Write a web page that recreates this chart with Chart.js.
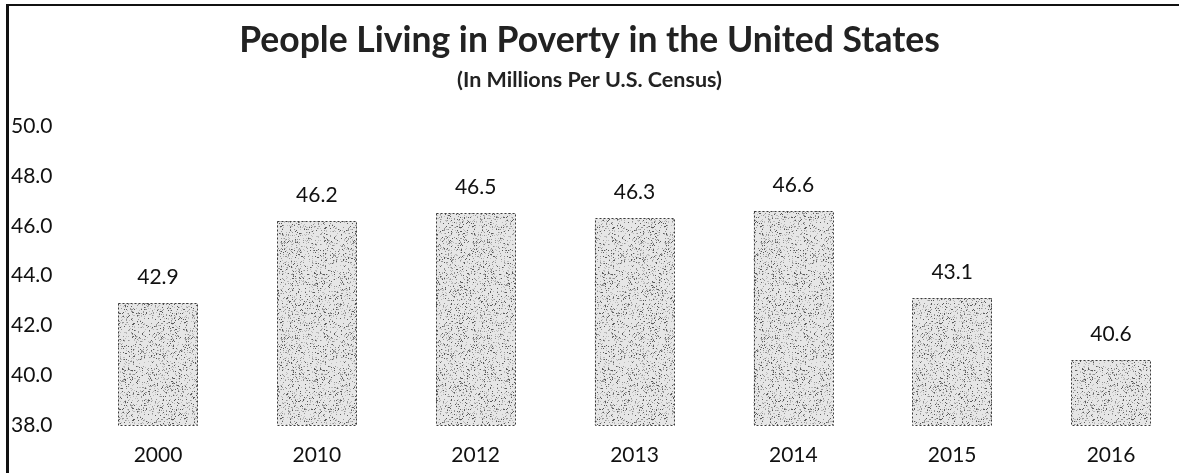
<!DOCTYPE html>
<html lang="en">
<head>
    <meta charset="UTF-8">
    <title>People Living in Poverty in the United States</title>
    <script src="https://cdn.jsdelivr.net/npm/chart.js"></script>
    <style>
        body { margin: 0; background: #fff; overflow: hidden; }
        #wrap { position: relative; width: 1179px; height: 473px; }
        #frame { position: absolute; left: 6px; top: 4px; width: 1200px; height: 480px;
                 border-left: 3px solid #111; border-top: 2px solid #111; pointer-events: none; }
    </style>
</head>
<body>
    <div id="wrap">
        <canvas id="povertyChart" width="1179" height="473"></canvas>
        <div id="frame"></div>
    </div>

    <script>
        // values
        const years = ['2000', '2010', '2012', '2013', '2014', '2015', '2016'];
        const millions = [42.9, 46.2, 46.5, 46.3, 46.6, 43.1, 40.6];
        const yMin = 38;
        const yMax = 50;
        const yStep = 2;

        const FONT = 'Lato, "Open Sans", sans-serif';

        // speckled grey fill like the scanned bars
        function makeStipple() {
            const c = document.createElement('canvas');
            c.width = 96; c.height = 96;
            const g = c.getContext('2d');
            g.fillStyle = '#e6e6e6';
            g.fillRect(0, 0, 96, 96);
            let s = 12345;
            const next = () => { s = (s * 1103515245 + 12345) & 0x7fffffff; return s / 0x7fffffff; };
            for (let i = 0; i < 1900; i++) {
                const x = Math.floor(next() * 96), y = Math.floor(next() * 96);
                const t = next();
                g.fillStyle = t < 0.25 ? '#5a5a5a' : (t < 0.6 ? '#949494' : '#bdbdbd');
                g.fillRect(x, y, 1, 1);
            }
            return g.createPattern(c, 'repeat');
        }

        // value labels above bars + dashed outline
        const barDecor = {
            id: 'barDecor',
            afterDatasetsDraw(chart) {
                const ctx = chart.ctx;
                const meta = chart.getDatasetMeta(0);
                ctx.save();
                meta.data.forEach((bar, i) => {
                    const w = bar.width;
                    ctx.setLineDash([2, 2]);
                    ctx.strokeStyle = '#3a3a3a';
                    ctx.lineWidth = 1;
                    ctx.strokeRect(Math.round(bar.x - w / 2) + 0.5, Math.round(bar.y) + 0.5,
                                   Math.round(w), Math.round(bar.base - bar.y));
                    ctx.setLineDash([]);
                    ctx.fillStyle = '#111';
                    ctx.font = '21px ' + FONT;
                    ctx.textAlign = 'center';
                    ctx.textBaseline = 'middle';
                    ctx.fillText(millions[i].toFixed(1), bar.x, bar.y - 26);
                });
                ctx.restore();
            }
        };

        const ctx = document.getElementById('povertyChart').getContext('2d');
        new Chart(ctx, {
            type: 'bar',
            data: {
                labels: years,
                datasets: [{
                    data: millions,
                    base: yMin,
                    backgroundColor: makeStipple(),
                    borderWidth: 0,
                    barPercentage: 0.5,
                    categoryPercentage: 1.0,
                    clip: false
                }]
            },
            options: {
                responsive: false,
                animation: false,
                layout: { padding: { left: 11, right: 11, top: 0, bottom: 6 } },
                scales: {
                    x: {
                        offset: false,
                        grid: { display: false, drawTicks: false },
                        border: { display: false },
                        afterFit: (scale) => { scale.height = 42; },
                        ticks: { color: '#111', padding: 18, maxRotation: 0, autoSkip: false,
                                 font: { family: FONT, size: 21 } }
                    },
                    y: {
                        min: yMin,
                        max: yMax,
                        grid: { display: false, drawTicks: false },
                        border: { display: false },
                        afterFit: (scale) => { scale.width = 147; },
                        ticks: {
                            stepSize: yStep,
                            crossAlign: 'far',
                            color: '#111',
                            font: { family: FONT, size: 21 },
                            callback: (v) => Number(v).toFixed(1)
                        }
                    },
                    yRight: {
                        position: 'right',
                        grid: { display: false, drawTicks: false },
                        border: { display: false },
                        ticks: { display: false },
                        afterFit: (scale) => { scale.width = 57; }
                    }
                },
                plugins: {
                    legend: { display: false },
                    tooltip: { enabled: false },
                    title: {
                        display: true,
                        text: 'People Living in Poverty in the United States',
                        color: '#222',
                        font: { family: FONT, size: 35.5, weight: 'bold', lineHeight: 1.2 },
                        padding: { top: 19, bottom: 0 }
                    },
                    subtitle: {
                        display: true,
                        text: '(In Millions Per U.S. Census)',
                        color: '#222',
                        font: { family: FONT, size: 21.5, weight: 'bold', lineHeight: 1.2 },
                        padding: { top: 6, bottom: 33 }
                    }
                }
            },
            plugins: [barDecor]
        });
    </script>
</body>
</html>
